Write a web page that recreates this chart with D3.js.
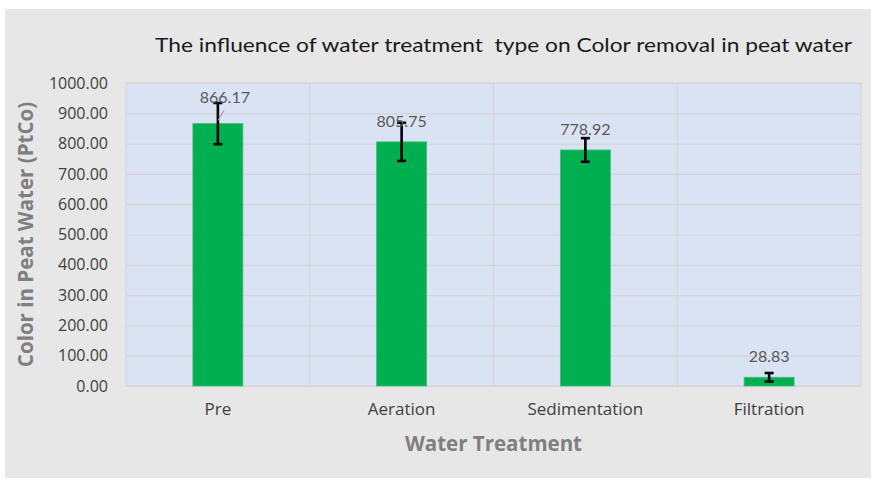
<!DOCTYPE html>
<html>
<head>
<meta charset="utf-8">
<script src="https://cdn.jsdelivr.net/npm/d3@7"></script>
<style>
  body { margin: 0; background: #fff; }
  text { font-family: "Open Sans", Lato, sans-serif; }
</style>
</head>
<body>
<div id="chart"></div>
<script>
// data
const categories = ["Pre", "Aeration", "Sedimentation", "Filtration"];
const values = [866.17, 805.75, 778.92, 28.83];
const errors = [68, 63, 39, 14];
const yTicks = [0, 100, 200, 300, 400, 500, 600, 700, 800, 900, 1000];

const W = 871, H = 480;
const margin = { top: 83, right: 10, bottom: 94, left: 126 };
const width = 861 - margin.left,
  height = 386 - margin.top;

const svg = d3
  .select("#chart")
  .append("svg")
  .attr("width", W)
  .attr("height", H);

// outer chart panel
svg.append("rect")
  .attr("x", 5).attr("y", 9)
  .attr("width", W - 5).attr("height", H - 11)
  .attr("fill", "#e7e7e7");

// title
svg.append("text")
  .attr("x", 155).attr("y", 52)
  .attr("font-size", 20)
  .attr("fill", "#1a1a1a")
  .attr("textLength", 697)
  .attr("lengthAdjust", "spacingAndGlyphs")
  .style("font-family", "Lato, sans-serif")
  .style("white-space", "pre")
  .text("The influence of water treatment  type on Color removal in peat water");

const g = svg.append("g")
  .attr("transform", `translate(${margin.left},${margin.top})`);

const x = d3.scaleBand().domain(categories).range([0, width]).padding(0);
const y = d3.scaleLinear().domain([0, 1000]).range([height, 0]);

// plot background
g.append("rect")
  .attr("width", width).attr("height", height)
  .attr("fill", "#dae3f3")
  .attr("stroke", "#d6d6d6");

// horizontal gridlines
g.append("g")
  .call(d3.axisLeft(y).tickValues(yTicks).tickSize(-width).tickFormat(""))
  .call((s) => s.select(".domain").remove())
  .call((s) => s.selectAll("line").attr("stroke", "#d5d5d5").attr("stroke-width", 1.2));

// vertical gridlines at category boundaries
g.append("g")
  .selectAll("line")
  .data(categories.slice(1))
  .enter()
  .append("line")
  .attr("x1", (d) => x(d)).attr("x2", (d) => x(d))
  .attr("y1", 0).attr("y2", height)
  .attr("stroke", "#d5d5d5").attr("stroke-width", 1.2);

// y axis labels
g.append("g")
  .call(d3.axisLeft(y).tickValues(yTicks).tickSize(0).tickPadding(18).tickFormat(d3.format(".2f")))
  .call((s) => s.select(".domain").remove())
  .call((s) => s.selectAll("text")
    .attr("font-size", 16)
    .attr("fill", "#404040")
    .style("font-family", "'Open Sans', sans-serif"));

// x axis labels
g.append("g")
  .attr("transform", `translate(0,${height})`)
  .call(d3.axisBottom(x).tickSize(0).tickPadding(17))
  .call((s) => s.select(".domain").remove())
  .call((s) => s.selectAll("text")
    .attr("font-size", 17)
    .attr("fill", "#404040")
    .style("font-family", "'Open Sans', sans-serif"));

// bars
const barW = x.bandwidth() * 0.272;
g.selectAll(".bar")
  .data(values)
  .enter()
  .append("rect")
  .attr("class", "bar")
  .attr("x", (d, i) => x(categories[i]) + x.bandwidth() / 2 - barW / 2)
  .attr("y", (d) => y(d))
  .attr("width", barW)
  .attr("height", (d) => height - y(d))
  .attr("fill", "#00b050")
  .attr("stroke", "#3fc07a")
  .attr("stroke-width", 0.8);

// error bars
const cx = (i) => x(categories[i]) + x.bandwidth() / 2;
const eb = g.append("g").attr("stroke", "#000").attr("stroke-width", 2.6);
values.forEach((v, i) => {
  const top = y(v + errors[i]), bot = y(v - errors[i]);
  eb.append("line").attr("x1", cx(i)).attr("x2", cx(i)).attr("y1", top).attr("y2", bot);
  eb.append("line").attr("x1", cx(i) - 4.5).attr("x2", cx(i) + 4.5).attr("y1", top).attr("y2", top);
  eb.append("line").attr("x1", cx(i) - 4.5).attr("x2", cx(i) + 4.5).attr("y1", bot).attr("y2", bot);
});

// data labels (first one was dragged up in the original, with a leader line)
const nudge = [{ dx: 7, dy: -6 }, { dx: 0, dy: 0 }, { dx: 0, dy: 0 }, { dx: 0, dy: 0 }];
g.append("line")
  .attr("x1", cx(0)).attr("y1", y(values[0]) - 3)
  .attr("x2", cx(0) + 6).attr("y2", y(values[0]) - 13)
  .attr("stroke", "#8c8c8c").attr("stroke-width", 1);
g.selectAll(".lbl")
  .data(values)
  .enter()
  .append("text")
  .attr("class", "lbl")
  .attr("x", (d, i) => cx(i) + nudge[i].dx)
  .attr("y", (d, i) => y(d) - 15 + nudge[i].dy)
  .attr("text-anchor", "middle")
  .attr("font-size", 16)
  .attr("fill", "#595959")
  .style("font-family", "Lato, sans-serif")
  .text((d) => d3.format(".2f")(d));

// axis titles
svg.append("text")
  .attr("transform", `translate(33,${margin.top + height / 2}) rotate(-90)`)
  .attr("text-anchor", "middle")
  .attr("font-size", 20.5)
  .attr("font-weight", "bold")
  .attr("fill", "#7f7f7f")
  .text("Color in Peat Water (PtCo)");

svg.append("text")
  .attr("x", margin.left + width / 2)
  .attr("y", 451)
  .attr("text-anchor", "middle")
  .attr("font-size", 20.5)
  .attr("font-weight", "bold")
  .attr("fill", "#7f7f7f")
  .text("Water Treatment");
</script>
</body>
</html>
